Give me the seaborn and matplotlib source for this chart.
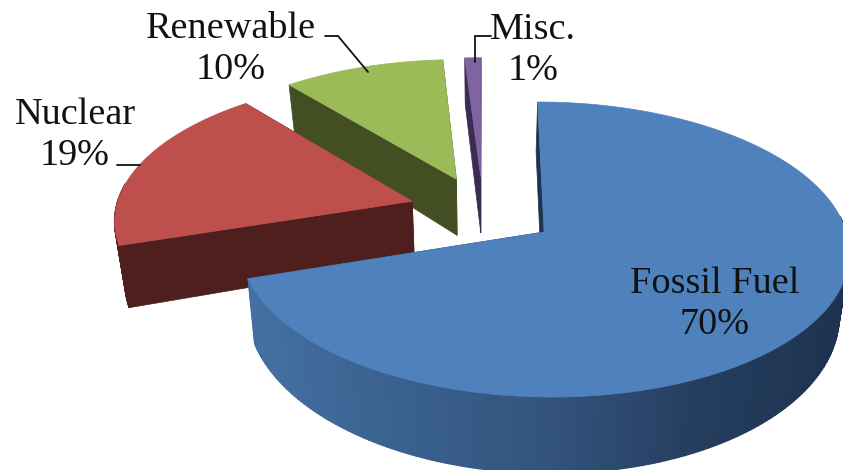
import numpy as np
import matplotlib
matplotlib.use("Agg")
import matplotlib.pyplot as plt
from matplotlib.collections import PolyCollection
from matplotlib.patches import Polygon
import seaborn as sns

# Energy mix, clockwise from twelve o'clock
categories = ["Fossil Fuel", "Nuclear", "Renewable", "Misc."]
shares = [70, 19, 10, 1]
top_colors = ["#4f81bd", "#bd4f4c", "#9bbb59", "#8064a2"]
wall_colors = ["#1d3350", "#4f1f1d", "#434f22", "#3a2c52"]
rim_shades = ["#44709f", "#3a6190", "#33547d", "#263f60", "#1d3350"]
label_centers = [(715, 304), (75, 135), (231, 49), (533, 50)]

# Projection settings for the tilted disc, in pixels
CX, CY = 483.0, 211.0
RX, RY = 297.0, 140.5
PERSP = 0.1166
EXPLODE = 0.25
DEPTH = 59.0
DEPTH_FALLOFF = 1.8
BASE_SHRINK = 0.972

sns.set_theme(style="white")
plt.rcParams["font.family"] = ["Liberation Serif", "DejaVu Serif"]

fig = plt.figure(figsize=(8.43, 4.70), dpi=100)
ax = fig.add_axes([0, 0, 1, 1])
ax.set_xlim(0, 843)
ax.set_ylim(470, 0)
ax.axis("off")


def project(u, v, lower=False):
    """Map disc coordinates to the canvas; lower=True gives the bottom face."""
    w = 1 + PERSP * v
    x = CX + RX * u / w
    y = CY - RY * v / w
    if lower:
        x = CX + (x - CX) * BASE_SHRINK
        y = y + DEPTH / w ** DEPTH_FALLOFF
    return np.column_stack([x, y])


def wedge_outline(start, stop):
    """Apex, rim samples and their angles for one exploded slice."""
    mid = (start + stop) / 2
    ou, ov = EXPLODE * np.sin(mid), EXPLODE * np.cos(mid)
    t = np.linspace(start, stop, max(int((stop - start) * 60), 8))
    return (ou, ov), ou + np.sin(t), ov + np.cos(t), t


fractions = np.array(shares, dtype=float) / sum(shares)
edges = np.concatenate([[0], np.cumsum(fractions)]) * 2 * np.pi

# Back slices first so that the front ones overlap them
for i in [3, 2, 1, 0]:
    z = 10 - 2 * i
    (ou, ov), ru, rv, t = wedge_outline(edges[i], edges[i + 1])
    apex_top = project(np.array([ou]), np.array([ov]))
    apex_low = project(np.array([ou]), np.array([ov]), lower=True)
    rim_top = project(ru, rv)
    rim_low = project(ru, rv, lower=True)

    # Radial side faces
    for j in (0, -1):
        face = np.vstack([apex_top, rim_top[j], rim_low[j], apex_low])
        ax.add_patch(Polygon(face, closed=True, fc=wall_colors[i], ec=wall_colors[i],
                             lw=0.5, zorder=z))

    # Curved rim: only the part turned towards the viewer, shaded from left to right
    front = [k for k in range(len(ru) - 1) if np.cos(t[k]) < 0.12]
    if front:
        quads = [np.vstack([rim_top[k], rim_top[k + 1], rim_low[k + 1], rim_low[k]])
                 for k in front]
        if i == 0:
            ramp = sns.blend_palette(rim_shades, n_colors=256)
            pos = np.clip((rim_top[front, 0] - 250) / 590, 0, 1)
            colors = [ramp[int(p * 255)] for p in pos]
        else:
            colors = [wall_colors[i]] * len(quads)
        ax.add_collection(PolyCollection(quads, facecolors=colors, edgecolors=colors,
                                         linewidths=1.0, zorder=z))

    # Top face
    ax.add_patch(Polygon(np.vstack([apex_top, rim_top]), closed=True, fc=top_colors[i],
                         ec=top_colors[i], lw=0.5, zorder=z + 1))

# Labels
for name, share, (lx, ly) in zip(categories, shares, label_centers):
    ax.text(lx, ly, f"{name}\n{share}%", ha="center", va="center", fontsize=27.5,
            color="#111111", linespacing=1.26, zorder=20)

# Leader lines
leaders = [([325, 338, 368], [36, 36, 72]),
           ([491, 475, 475], [36, 36, 62]),
           ([117, 140], [165, 165])]
for xs, ys in leaders:
    ax.plot(xs, ys, color="#111111", lw=1.3, zorder=20, solid_joinstyle="miter")

fig.savefig("out.png", dpi=100, facecolor="white")
